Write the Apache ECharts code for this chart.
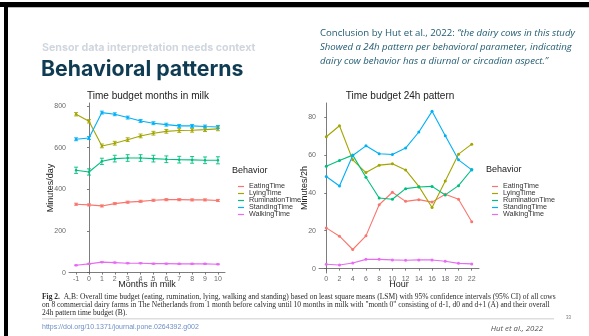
<!DOCTYPE html>
<html>
<head>
<meta charset="utf-8">
<script src="https://cdn.jsdelivr.net/npm/echarts@6/dist/echarts.min.js"></script>
<style>
  html, body { margin: 0; padding: 0; background: #ffffff; }
  #chart { width: 589px; height: 336px; }
</style>
</head>
<body>
<div id="chart"></div>
<script>
// Behaviour categories and their colours
const behaviors = ['EatingTime', 'LyingTime', 'RuminationTime', 'StandingTime', 'WalkingTime'];
const behaviorColors = ['#F8766D', '#A3A500', '#00BF7D', '#00B0F6', '#E76BF3'];

// Panel A: minutes per day by month in milk (least square means)
const months = [-1, 0, 1, 2, 3, 4, 5, 6, 7, 8, 9, 10];
const monthEating      = [328, 325, 320, 331, 338, 342, 347, 350, 350, 349, 349, 346];
const monthLying       = [760, 726, 608, 621, 638, 656, 669, 678, 682, 683, 686, 690];
const monthRumination  = [491, 483, 534, 547, 550, 550, 547, 544, 542, 541, 539, 539];
const monthStanding    = [640, 646, 768, 760, 744, 728, 717, 710, 704, 704, 701, 699];
const monthWalking     = [35, 42, 50, 48, 45, 45, 43, 43, 42, 42, 42, 40];
// 95% CI half-widths for panel A
const ciEating         = [5, 5, 5, 5, 5, 5, 5, 5, 5, 5, 5, 5];
const ciLying          = [8, 8, 9, 9, 9, 9, 9, 9, 9, 9, 9, 9];
const ciRumination     = [15, 15, 15, 16, 16, 16, 16, 16, 16, 16, 16, 17];
const ciStanding       = [7, 7, 7, 7, 7, 7, 7, 7, 7, 7, 7, 7];
const ciWalking        = [2, 2, 2, 2, 2, 2, 2, 2, 2, 2, 2, 2];

// Panel B: minutes per 2 h block over the day
const hours = [0, 2, 4, 6, 8, 10, 12, 14, 16, 18, 20, 22];
const hourEating      = [21.5, 17.1, 10.1, 17.3, 33.7, 40.3, 35.5, 36.4, 35.1, 39.2, 36.6, 24.7];
const hourLying       = [69.6, 75.4, 57.4, 50.7, 54.6, 55.3, 52.1, 43.4, 32.3, 46.3, 60.4, 65.7];
const hourRumination  = [54.0, 57.0, 59.9, 48.2, 37.3, 36.6, 42.2, 43.1, 43.4, 38.9, 43.8, 52.3];
const hourStanding    = [48.6, 43.6, 59.7, 64.8, 60.6, 60.2, 63.6, 72.1, 83.0, 70.1, 57.4, 52.1];
const hourWalking     = [2.3, 1.9, 3.0, 4.9, 4.9, 4.6, 4.4, 4.6, 4.6, 3.9, 2.8, 2.5];

// Tick labels
const monthTicks = [-1, 0, 1, 2, 3, 4, 5, 6, 7, 8, 9, 10];
const dayTicks = [0, 200, 400, 600, 800];
const hourTicks = [0, 2, 4, 6, 8, 10, 12, 14, 16, 18, 20, 22];
const twoHourTicks = [0, 20, 40, 60, 80];

const monthSeries = [monthEating, monthLying, monthRumination, monthStanding, monthWalking];
const monthCI = [ciEating, ciLying, ciRumination, ciStanding, ciWalking];
const hourSeries = [hourEating, hourLying, hourRumination, hourStanding, hourWalking];

const plotFont = 'Liberation Sans, Arial, sans-serif';
const tickColor = '#6a6a6a';
const axisColor = '#5a5a5a';

function errorBarItem(params, api) {
  const x = api.value(0);
  const lo = api.coord([x, api.value(1)]);
  const hi = api.coord([x, api.value(2)]);
  const w = 2;
  const style = { stroke: api.visual('color'), lineWidth: 0.9 };
  return {
    type: 'group',
    children: [
      { type: 'line', shape: { x1: lo[0], y1: lo[1], x2: hi[0], y2: hi[1] }, style },
      { type: 'line', shape: { x1: lo[0] - w, y1: lo[1], x2: lo[0] + w, y2: lo[1] }, style },
      { type: 'line', shape: { x1: hi[0] - w, y1: hi[1], x2: hi[0] + w, y2: hi[1] }, style }
    ]
  };
}

function makeXAxis(idx, min, max, ticks, name) {
  return {
    type: 'value', gridIndex: idx, min, max,
    name, nameLocation: 'middle', nameGap: 7, nameMoveOverlap: false,
    nameTextStyle: { fontFamily: plotFont, fontSize: 9, color: '#222' },
    axisLine: { show: true, lineStyle: { color: axisColor, width: 0.8 } },
    axisTick: { show: true, length: 2, customValues: ticks, lineStyle: { color: axisColor, width: 0.8 } },
    axisLabel: { customValues: ticks, fontFamily: plotFont, fontSize: 7, color: tickColor, margin: 3 },
    splitLine: { show: false }
  };
}

function makeYAxis(idx, min, max, ticks, name, gap) {
  return {
    type: 'value', gridIndex: idx, min, max,
    name, nameLocation: 'middle', nameGap: gap, nameMoveOverlap: false,
    nameTextStyle: { fontFamily: plotFont, fontSize: 9, color: '#222' },
    axisLine: { show: true, lineStyle: { color: axisColor, width: 0.8 } },
    axisTick: { show: true, length: 2, customValues: ticks, lineStyle: { color: axisColor, width: 0.8 } },
    axisLabel: { customValues: ticks, fontFamily: plotFont, fontSize: 7, color: tickColor, margin: 3 },
    splitLine: { show: false }
  };
}

const series = [];
behaviors.forEach((name, i) => {
  series.push({
    name, type: 'line', xAxisIndex: 0, yAxisIndex: 0,
    data: months.map((m, j) => [m, monthSeries[i][j]]),
    symbol: 'circle', symbolSize: 2.5, color: behaviorColors[i],
    lineStyle: { width: 1.1 }, silent: true, z: 3
  });
  series.push({
    name, type: 'custom', xAxisIndex: 0, yAxisIndex: 0,
    renderItem: errorBarItem,
    data: months.map((m, j) => [m, monthSeries[i][j] - monthCI[i][j], monthSeries[i][j] + monthCI[i][j]]),
    itemStyle: { color: behaviorColors[i] }, silent: true, z: 4
  });
  series.push({
    name, type: 'line', xAxisIndex: 1, yAxisIndex: 1,
    data: hours.map((h, j) => [h, hourSeries[i][j]]),
    symbol: 'circle', symbolSize: 3, color: behaviorColors[i],
    lineStyle: { width: 1.1 }, silent: true, z: 3
  });
});

function makeLegend(left) {
  return {
    orient: 'vertical', left, top: 178,
    data: behaviors.map(n => ({ name: n, icon: 'rect' })),
    itemWidth: 6, itemHeight: 1.2, itemGap: 0,
    textStyle: { fontFamily: plotFont, fontSize: 7.2, color: '#333', lineHeight: 6.4, padding: [0, 0, 0, 0] },
    selectedMode: false
  };
}

const text = (x, y, str, style) => ({
  type: 'text', x, y, silent: true,
  style: Object.assign({ text: str, textVerticalAlign: 'middle' }, style)
});

const captionFont = 'Liberation Serif, Times New Roman, serif';
const headFont = 'Inter, Open Sans, sans-serif';
const bodyFont = 'Open Sans, Lato, sans-serif';
const quoteColor = '#1f5a70';

const option = {
  animation: false,
  backgroundColor: '#ffffff',
  grid: [
    { left: 69, top: 103, width: 156, height: 170 },
    { left: 319, top: 103, width: 160, height: 170 }
  ],
  xAxis: [
    makeXAxis(0, -1.55, 10.55, monthTicks, 'Months in milk'),
    makeXAxis(1, -1.1, 23.1, hourTicks, 'Hour')
  ],
  yAxis: [
    makeYAxis(0, -2, 814, dayTicks, 'Minutes/day', 14),
    makeYAxis(1, -2.3, 87.4, twoHourTicks, 'Minutes/2h', 9.5)
  ],
  legend: [makeLegend(233), makeLegend(487)],
  series,
  graphic: [
    // slide frame
    { type: 'rect', shape: { x: 0, y: 2, width: 589, height: 5 }, style: { fill: '#000' }, silent: true },
    { type: 'rect', shape: { x: 4, y: 2, width: 4, height: 334 }, style: { fill: '#000' }, silent: true },
    { type: 'rect', shape: { x: 8, y: 7, width: 581, height: 1 }, style: { fill: '#bbbbbb' }, silent: true },

    // slide headings
    text(42, 48, 'Sensor data interpretation needs context',
      { fontFamily: headFont, fontWeight: 'bold', fontSize: 10.7, fill: '#d0d6de' }),
    text(41, 70, 'Behavioral patterns',
      { fontFamily: headFont, fontWeight: 'bold', fontSize: 21.3, fill: '#0f3c52' }),
    text(320, 33, '', {
      rich: { n: { fontFamily: bodyFont, fontSize: 9.6, fill: quoteColor },
              i: { fontFamily: bodyFont, fontSize: 9.6, fill: quoteColor, fontStyle: 'italic' } },
      text: '{n|Conclusion by Hut et al., 2022: }{i|\u201cthe dairy cows in this study}'
    }),
    text(320, 47, 'Showed a 24h pattern per behavioral parameter, indicating',
      { fontFamily: bodyFont, fontSize: 9.6, fill: quoteColor, fontStyle: 'italic' }),
    text(320, 61, 'dairy cow behavior has a diurnal or circadian aspect.\u201d',
      { fontFamily: bodyFont, fontSize: 9.6, fill: quoteColor, fontStyle: 'italic' }),

    // plot titles
    text(148, 96, 'Time budget months in milk',
      { fontFamily: plotFont, fontSize: 10, fill: '#222', textAlign: 'center' }),
    text(400, 96, 'Time budget 24h pattern',
      { fontFamily: plotFont, fontSize: 10, fill: '#222', textAlign: 'center' }),

    // legend titles
    text(232, 171, 'Behavior', { fontFamily: plotFont, fontSize: 9, fill: '#222' }),
    text(486, 170, 'Behavior', { fontFamily: plotFont, fontSize: 9, fill: '#222' }),

    // figure caption
    text(42, 297, '', {
      rich: { b: { fontFamily: captionFont, fontSize: 7.5, fontWeight: 'bold', fill: '#2a2a2a' },
              r: { fontFamily: captionFont, fontSize: 7.5, fill: '#2a2a2a' } },
      text: '{b|Fig 2.}{r|  A,B: Overall time budget (eating, rumination, lying, walking and standing) based on least square means (LSM) with 95% confidence intervals (95% CI) of all cows}'
    }),
    text(42, 305, 'on 8 commercial dairy farms in The Netherlands from 1 month before calving until 10 months in milk with "month 0" consisting of d-1, d0 and d+1 (A) and their overall',
      { fontFamily: captionFont, fontSize: 7.5, fill: '#2a2a2a' }),
    text(42, 313, '24h pattern time budget (B).',
      { fontFamily: captionFont, fontSize: 7.5, fill: '#2a2a2a' }),
    { type: 'rect', shape: { x: 42, y: 318.5, width: 512, height: 0.8 }, style: { fill: '#bdbdbd' }, silent: true },
    text(42, 327, 'https://doi.org/10.1371/journal.pone.0264392.g002',
      { fontFamily: plotFont, fontSize: 7, fill: '#6d8fc4' }),
    text(543, 329, 'Hut et al., 2022',
      { fontFamily: bodyFont, fontSize: 7.8, fill: '#555', fontStyle: 'italic', textAlign: 'right' }),
    text(566, 318, '33', { fontFamily: plotFont, fontSize: 4.5, fill: '#777' })
  ]
};

const chart = echarts.init(document.getElementById('chart'), null, { renderer: 'canvas' });
chart.setOption(option);
</script>
</body>
</html>
